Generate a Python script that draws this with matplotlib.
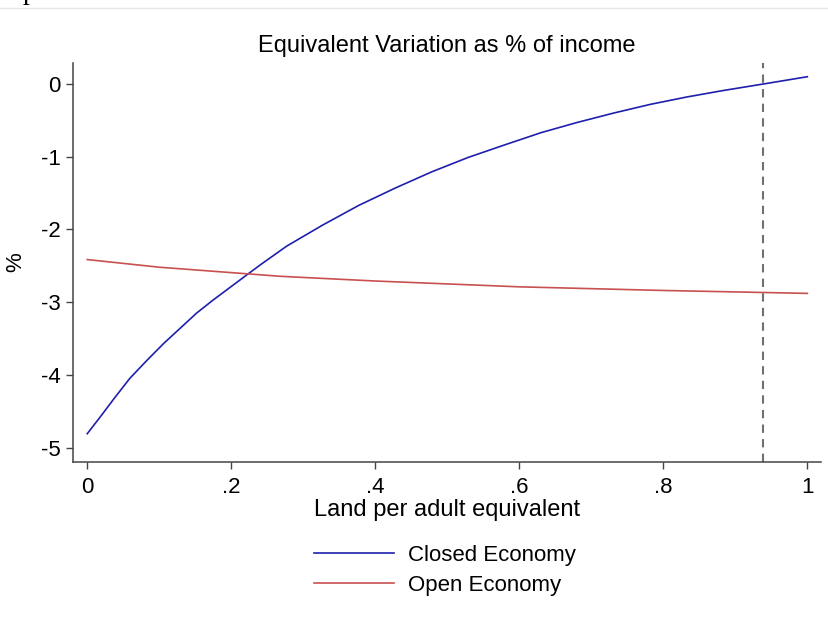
import numpy as np
import matplotlib
matplotlib.use('Agg')
import matplotlib.pyplot as plt
from matplotlib.lines import Line2D

plt.rcParams['font.family'] = ['Liberation Sans', 'DejaVu Sans']
plt.rcParams['axes.unicode_minus'] = False

# values
land = [0.0, 0.018, 0.037, 0.059, 0.083, 0.106, 0.129, 0.152, 0.175, 0.198,
        0.221, 0.240, 0.277, 0.327, 0.377, 0.428, 0.478, 0.529, 0.579, 0.630,
        0.680, 0.731, 0.782, 0.832, 0.883, 0.939, 1.0]
closed_ev = [-4.81, -4.58, -4.33, -4.05, -3.80, -3.57, -3.36, -3.15, -2.97, -2.80,
             -2.63, -2.49, -2.23, -1.94, -1.67, -1.43, -1.21, -1.01, -0.84, -0.67,
             -0.53, -0.40, -0.28, -0.18, -0.09, 0.0, 0.10]
open_land = [0.0, 0.1, 0.268, 0.4, 0.6, 0.8, 1.0]
open_ev = [-2.415, -2.52, -2.645, -2.71, -2.79, -2.84, -2.88]
cutoff = 0.939
xticks = [0, 0.2, 0.4, 0.6, 0.8, 1]
xticklabels = ['0', '.2', '.4', '.6', '.8', '1']
yticks = [0, -1, -2, -3, -4, -5]

fig = plt.figure(figsize=(8.29, 6.29), dpi=100)
ax = fig.add_axes([0.0884, 0.266, 0.9016, 0.6334])

ax.plot(land, closed_ev, color='#1f1fae', lw=1.2, label='Closed Economy')
ax.plot(open_land, open_ev, color='#c8504f', lw=1.2, label='Open Economy')
ax.axvline(cutoff, color='#707070', ls=(0, (4, 3)), lw=1.5)

ax.set_xlim(-0.0194, 1.0186)
ax.set_ylim(-5.195, 0.285)
ax.set_xticks(xticks)
ax.set_xticklabels(xticklabels)
ax.set_yticks(yticks)
ax.tick_params(labelsize=16, length=5, width=1, color='#444444', pad=4)
ax.tick_params(axis='x', pad=6)
for s in ['top', 'right']:
    ax.spines[s].set_visible(False)
for s in ['left', 'bottom']:
    ax.spines[s].set_color('#444444')
    ax.spines[s].set_linewidth(1.1)

ax.set_title('Equivalent Variation as % of income', fontsize=17, pad=8)
ax.set_xlabel('Land per adult equivalent', fontsize=17)
ax.xaxis.set_label_coords(0.5, -0.094)
ax.set_ylabel('%', fontsize=16)
ax.yaxis.set_label_coords(-0.063, 0.5)

fig.legend(loc='upper center', bbox_to_anchor=(0.537, 0.165), frameon=False,
           fontsize=16, handlelength=3.6, handletextpad=0.65, labelspacing=0.4)

# bits of the page the chart was cut from
fig.add_artist(Line2D([0, 1], [0.987, 0.987], color='#e6e6e6', lw=1))
fig.text(0.036, 1.012, 'p', family='Liberation Serif', fontsize=20,
         ha='center', va='center')

fig.savefig('out.png', dpi=100, facecolor='white')
